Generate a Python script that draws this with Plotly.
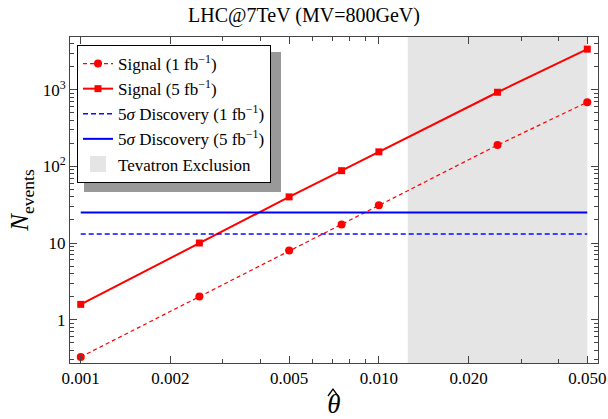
import plotly.graph_objects as go
import numpy as np

theta = [0.001, 0.0025, 0.005, 0.0075, 0.01, 0.025, 0.05]
signal_1fb = [0.325, 2.0, 8.0, 17.5, 31, 190, 690]
signal_5fb = [1.58, 10.0, 40, 88, 155, 930, 3400]
disc_1fb = 13.1
disc_5fb = 25.0
tev_excl = [0.0125, 0.05]

x_tickvals = [0.001, 0.002, 0.005, 0.010, 0.020, 0.050]
x_ticktext = ["0.001", "0.002", "0.005", "0.010", "0.020", "0.050"]
x_minor = [0.003, 0.004, 0.006, 0.007, 0.008, 0.009, 0.03, 0.04]
y_tickvals = [1, 10, 100, 1000]
y_ticktext = ["1", "10", "10<sup>2</sup>", "10<sup>3</sup>"]
y_minor = [m * 10 ** e for e in range(-1, 4) for m in range(2, 10)]

FONT = "Liberation Serif"
L, R, T, B = 70, 10, 37, 56
PW, PH = 608 - L - R, 419 - T - B


def px_x(p):
    return (p - L) / PW


def px_y(p):
    return (419 - B - p) / PH


fig = go.Figure()

fig.add_trace(go.Scatter(
    x=theta, y=signal_1fb, mode="lines+markers",
    name="Signal (1 fb<sup>−1</sup>)",
    line=dict(color="#ff0000", width=1.2, dash="4px,3px"),
    marker=dict(symbol="circle", size=8, color="#ff0000")))
fig.add_trace(go.Scatter(
    x=theta, y=signal_5fb, mode="lines+markers",
    name="Signal (5 fb<sup>−1</sup>)",
    line=dict(color="#ff0000", width=2),
    marker=dict(symbol="square", size=7, color="#ff0000")))
fig.add_trace(go.Scatter(
    x=[theta[0], theta[-1]], y=[disc_1fb, disc_1fb], mode="lines",
    name="5<i>σ</i> Discovery (1 fb<sup>−1</sup>)",
    line=dict(color="#0a0aff", width=1.3, dash="5px,3px")))
fig.add_trace(go.Scatter(
    x=[theta[0], theta[-1]], y=[disc_5fb, disc_5fb], mode="lines",
    name="5<i>σ</i> Discovery (5 fb<sup>−1</sup>)",
    line=dict(color="#0000ff", width=2)))
fig.add_trace(go.Scatter(
    x=[None], y=[None], mode="markers",
    name="Tevatron Exclusion",
    marker=dict(symbol="square", size=20, color="#e5e5e5")))

fig.add_shape(type="rect", xref="x", yref="paper",
              x0=tev_excl[0], x1=tev_excl[1], y0=0, y1=1,
              fillcolor="#e5e5e5", line_width=0, layer="below")

# legend shadow
fig.add_shape(type="rect", xref="paper", yref="paper",
              x0=px_x(84), x1=px_x(281), y0=px_y(192), y1=px_y(52),
              fillcolor="#999999", line_width=0, layer="above")

# circumflex over theta (drawn as a small caret)
fig.add_shape(type="path", xref="paper", yref="paper",
              path=(f"M {px_x(328)},{px_y(396)} L {px_x(333)},{px_y(389)} "
                    f"L {px_x(338)},{px_y(396)}"),
              line=dict(color="black", width=1.3))

fig.update_layout(
    width=608, height=419,
    margin=dict(l=L, r=R, t=T, b=B),
    paper_bgcolor="white", plot_bgcolor="white",
    font=dict(family=FONT, size=17, color="black"),
    title=dict(text="LHC@7TeV (MV=800GeV)", x=0.5, xanchor="center",
               y=0.982, yanchor="top", font=dict(size=20)),
    showlegend=True,
    legend=dict(x=px_x(77), y=px_y(45), xanchor="left", yanchor="top",
                bgcolor="white", bordercolor="black", borderwidth=1,
                font=dict(size=17, family=FONT), tracegroupgap=0),
)

fig.update_xaxes(type="log", range=[np.log10(0.001) - 0.036, np.log10(0.05) + 0.036],
                 automargin=False,
                 tickvals=x_tickvals, ticktext=x_ticktext,
                 ticks="inside", ticklen=7, tickcolor="#444", mirror="ticks",
                 showline=True, linecolor="#444", linewidth=1, showgrid=False, zeroline=False,
                 minor=dict(tickvals=x_minor, ticks="inside", ticklen=4, tickcolor="#444", showgrid=False),
                 title=dict(text="<i>θ</i>", font=dict(size=27), standoff=10),
                 tickfont=dict(size=17))
fig.update_yaxes(type="log", range=[-0.567, 3.69],
                 automargin=False,
                 tickvals=y_tickvals, ticktext=y_ticktext,
                 ticks="inside", ticklen=7, tickcolor="#444", mirror="ticks",
                 showline=True, linecolor="#444", linewidth=1, showgrid=False, zeroline=False,
                 minor=dict(tickvals=y_minor, ticks="inside", ticklen=4, tickcolor="#444", showgrid=False),
                 title=dict(text="<i>N</i><sub>events</sub>", font=dict(size=25), standoff=6),
                 tickfont=dict(size=17))

fig.write_html("out.html")
